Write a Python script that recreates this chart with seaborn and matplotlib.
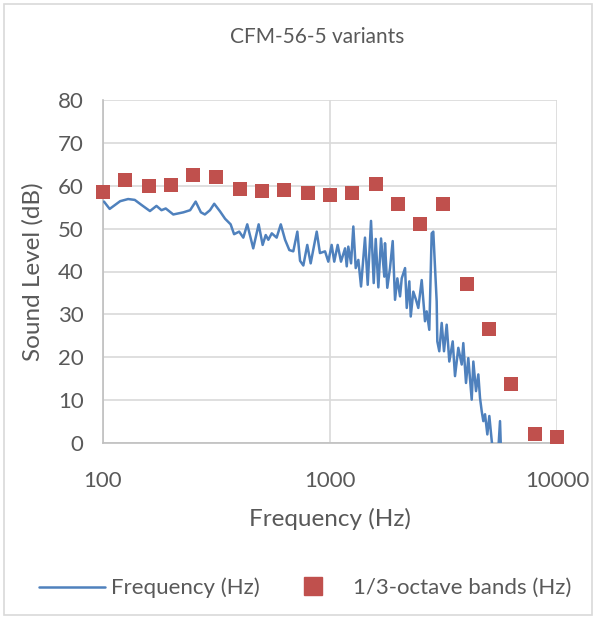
import matplotlib
matplotlib.use("Agg")
import matplotlib.pyplot as plt
import seaborn as sns
import pandas as pd
from matplotlib.patches import Rectangle
from matplotlib.lines import Line2D

# Narrow-band spectrum (Hz, dB)
line_freq = [101, 107, 119, 129, 138, 148, 161, 172, 181, 189, 204, 226, 242, 256, 270, 281,
             296, 309, 328, 345, 365, 378, 398, 415, 432, 459, 485, 505, 521, 535, 554, 582,
             607, 634, 662, 689, 718, 738, 763, 794, 822, 874, 903, 951, 983, 1017, 1044,
             1081, 1118, 1165, 1185, 1204, 1238, 1267, 1298, 1333, 1370, 1426, 1466, 1516,
             1558, 1590, 1633, 1678, 1735, 1747, 1788, 1838, 1889, 1934, 1980, 2035, 2070,
             2141, 2178, 2236, 2268, 2328, 2393, 2449, 2535, 2621, 2667, 2738, 2805, 2851,
             2951, 2970, 3030, 3105, 3178, 3266, 3354, 3472, 3554, 3675, 3804, 3866, 3973,
             4067, 4210, 4280, 4398, 4502, 4580, 4660, 4736, 4819, 4933, 5034, 5158, 5280,
             5450, 5610, 5667]
line_level = [56.3, 54.6, 56.4, 56.9, 56.7, 55.5, 54.1, 55.3, 54.3, 54.7, 53.3, 53.8, 54.3,
              56.3, 53.8, 53.3, 54.3, 55.8, 54.0, 52.3, 51.0, 48.7, 49.3, 47.9, 51.0, 45.4,
              51.0, 46.2, 48.5, 47.4, 48.9, 47.9, 51.0, 47.4, 45.0, 44.7, 49.3, 42.5, 41.4,
              46.2, 41.9, 49.3, 44.3, 44.7, 42.3, 46.2, 42.3, 46.2, 42.3, 45.4, 41.2, 45.8,
              41.9, 50.5, 40.8, 42.7, 36.5, 47.9, 36.9, 51.8, 37.3, 47.6, 36.3, 47.7, 38.8,
              46.6, 36.2, 40.8, 47.1, 33.4, 38.4, 34.2, 38.4, 40.8, 31.5, 37.7, 29.5, 35.3,
              33.4, 31.5, 38.0, 28.4, 30.7, 26.4, 48.9, 49.3, 33.0, 23.7, 21.4, 28.0, 21.4,
              27.6, 19.0, 23.7, 15.6, 22.2, 18.3, 23.3, 14.0, 19.8, 10.1, 19.0, 12.1, 16.0,
              10.5, 7.4, 5.1, 6.7, 2.0, 6.3, 0.5, -4.0, -6.0, 5.1, -2.0]

# 1/3-octave bands (Hz, dB)
band_freq = [100, 125, 160, 200, 250, 315, 400, 500, 630, 800, 1000, 1250, 1600, 2000,
             2500, 3150, 4000, 5000, 6300, 8000, 10000]
band_level = [58.5, 61.3, 59.9, 60.2, 62.5, 62.0, 59.3, 58.8, 59.1, 58.3, 57.8, 58.3,
              60.4, 55.7, 51.0, 55.7, 37.2, 26.6, 13.8, 2.0, 1.4]

x_ticks = [100, 1000, 10000]
x_tick_labels = ["100", "1000", "10000"]

line_df = pd.DataFrame({"f": line_freq, "v": line_level})
band_df = pd.DataFrame({"f": band_freq, "v": band_level})

sns.set_theme(style="white")
plt.rcParams["font.family"] = ["Lato", "DejaVu Sans"]

text_gray = "#595959"
grid_gray = "#d9d9d9"
blue = "#4F81BD"
red = "#C0504D"

fig = plt.figure(figsize=(5.96, 6.19), dpi=100)
ax = fig.add_axes([103 / 596, 1 - 443 / 619, (557 - 103) / 596, (443 - 100) / 619])

sns.lineplot(data=line_df, x="f", y="v", ax=ax, color=blue, linewidth=1.8,
             sort=False, estimator=None, zorder=3)
sns.scatterplot(data=band_df, x="f", y="v", ax=ax, color=red, marker="s", s=105,
                linewidth=0, zorder=4, clip_on=False)

ax.set_xscale("log")
ax.set_xlim(100, 10000)
ax.set_ylim(0, 80)
ax.set_yticks(range(0, 81, 10))
ax.set_xticks(x_ticks)
ax.set_xticklabels(x_tick_labels)
ax.minorticks_off()
ax.grid(True, color=grid_gray, linewidth=1.2, zorder=0)
ax.set_axisbelow(True)
for s in ["top", "right"]:
    ax.spines[s].set_visible(False)
for s in ["left", "bottom"]:
    ax.spines[s].set_color("#bfbfbf")
    ax.spines[s].set_linewidth(1.2)
ax.tick_params(axis="both", length=0, labelsize=16, colors=text_gray)
ax.tick_params(axis="x", pad=20)
ax.tick_params(axis="y", pad=14)
ax.set_xlabel("Frequency (Hz)", fontsize=17.5, color=text_gray, labelpad=12)
ax.set_ylabel("Sound Level (dB)", fontsize=17.5, color=text_gray, labelpad=10)
fig.text(317 / 596, 1 - 37 / 619, "CFM-56-5 variants", fontsize=15, color=text_gray,
         ha="center", va="center")

fig.legend([Line2D([0], [0], color=blue, linewidth=1.8)], ["Frequency (Hz)"],
           loc="center left", bbox_to_anchor=(39 / 596, 1 - 588 / 619),
           frameon=False, fontsize=16, labelcolor=text_gray, handlelength=2.97,
           handletextpad=0.27, borderpad=0, borderaxespad=0)
fig.legend([Line2D([0], [0], color=red, marker="s", linestyle="none", markersize=13)],
           ["1/3-octave bands (Hz)"], loc="center left",
           bbox_to_anchor=(302 / 596, 1 - 588 / 619), frameon=False, fontsize=16,
           labelcolor=text_gray, handlelength=1.0, handletextpad=1.3,
           borderpad=0, borderaxespad=0)

fig.patches.append(Rectangle((4 / 596, 4 / 619), 588 / 596, 611 / 619,
                             transform=fig.transFigure, fill=False,
                             edgecolor=grid_gray, linewidth=1.2))

fig.savefig("out.png", dpi=100)
